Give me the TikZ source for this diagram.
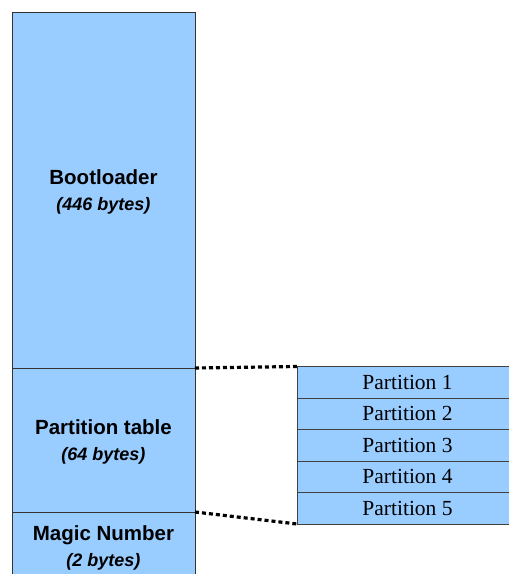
\documentclass[tikz,border=0pt]{standalone}
\usepackage{fontspec}
\setmainfont{Liberation Serif}
\newfontfamily\labelsans{Liberation Sans}
\begin{document}
\begin{tikzpicture}[x=1pt,y=-1pt,
  block/.style={draw=black!80, line width=0.9pt, fill=blockblue, rectangle, inner sep=0pt, outer sep=0pt,
    minimum width=183pt, align=center, font=\labelsans\bfseries\fontsize{20.5}{26}\selectfont},
  part/.style={draw=black!75, line width=0.9pt, fill=blockblue, rectangle, inner sep=0pt, outer sep=0pt,
    minimum width=221pt, minimum height=31.5pt, font=\fontsize{21.5}{24}\selectfont},
  dotline/.style={line width=3.2pt, dash pattern=on 4pt off 3pt, black}]
\definecolor{blockblue}{RGB}{153,204,255}
\newcommand{\subtext}[1]{{\labelsans\bfseries\itshape\fontsize{18}{20}\selectfont #1}}
\newcommand{\topstrut}{\rule{0pt}{19pt}}
\useasboundingbox (0,0) rectangle (509,574);
\clip (0,0) rectangle (509,574);
\node[block, minimum height=356pt, anchor=north west] (boot) at (12,12)
  {\topstrut Bootloader\\[0pt]\subtext{(446 bytes)}};
\node[block, minimum height=144pt, anchor=north west] (ptable) at (boot.south west)
  {\topstrut Partition table\\[0pt]\subtext{(64 bytes)}};
\node[block, minimum height=67pt, anchor=north west] (magic) at (ptable.south west)
  {\topstrut Magic Number\\[0pt]\subtext{(2 bytes)}};
\node[part, anchor=north west] (p1) at (297,366.5) {Partition 1};
\node[part, anchor=north west] (p2) at (p1.south west) {Partition 2};
\node[part, anchor=north west] (p3) at (p2.south west) {Partition 3};
\node[part, anchor=north west] (p4) at (p3.south west) {Partition 4};
\node[part, anchor=north west] (p5) at (p4.south west) {Partition 5};
\draw[dotline] (ptable.north east) -- (p1.north west);
\draw[dotline] (ptable.south east) -- (p5.south west);
\end{tikzpicture}
\end{document}
